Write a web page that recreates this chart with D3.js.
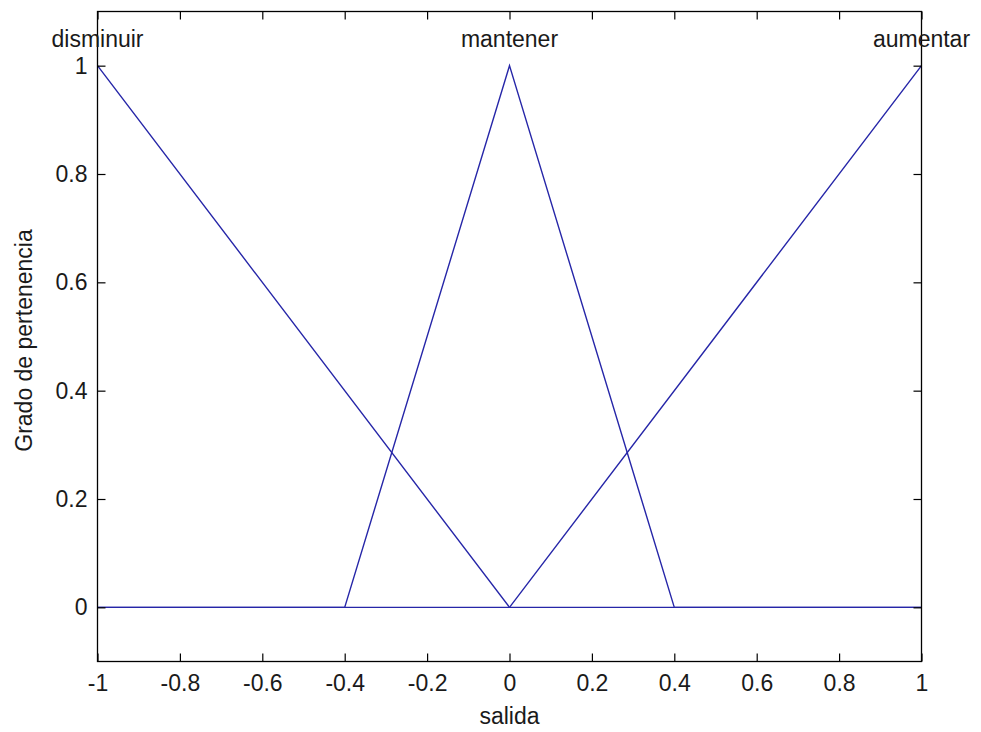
<!DOCTYPE html>
<html>
<head>
<meta charset="utf-8">
<script src="https://cdn.jsdelivr.net/npm/d3@7"></script>
<style>
  body { margin: 0; background: #fff; }
  svg text { font-family: "Liberation Sans", Arial, sans-serif; fill: #1a1a1a; }
</style>
</head>
<body>
<div id="chart"></div>
<script>
// membership functions of the output variable "salida"
var mfNames = ["disminuir", "mantener", "aumentar"];
var mfParams = [[-2, -1, 0], [-0.4, 0, 0.4], [0, 1, 2]]; // trimf a, b, c
var xDomain = [-1, 1];
var yDomain = [-0.1, 1.1];
var xTicks = [-1, -0.8, -0.6, -0.4, -0.2, 0, 0.2, 0.4, 0.6, 0.8, 1];
var yTicks = [0, 0.2, 0.4, 0.6, 0.8, 1];
var xLabel = "salida";
var yLabel = "Grado de pertenencia";

var w = 981, h = 732;
var box = {left: 97.5, right: 921.5, top: 11.5, bottom: 661.5};

var svg = d3.select("#chart").append("svg")
  .attr("width", w)
  .attr("height", h);

var x = d3.scaleLinear().domain(xDomain).range([box.left, box.right]);
var y = d3.scaleLinear().domain(yDomain).range([box.bottom, box.top]);

function fmt(d) { return String(+d.toFixed(1)); }

// break points of each triangle, clipped to the x range
function trimfPoints(p) {
  var a = p[0], b = p[1], c = p[2];
  var pts = [];
  function mu(v) {
    if (v <= a || v >= c) return 0;
    return v < b ? (v - a) / (b - a) : (c - v) / (c - b);
  }
  var xs = [xDomain[0], a, b, c, xDomain[1]].filter(function(v) {
    return v >= xDomain[0] && v <= xDomain[1];
  });
  xs = Array.from(new Set(xs)).sort(function(m, n) { return m - n; });
  xs.forEach(function(v) { pts.push([v, v === b ? 1 : mu(v)]); });
  return pts;
}

var line = d3.line()
  .x(function(d) { return x(d[0]); })
  .y(function(d) { return y(d[1]); });

svg.append("g")
  .selectAll("path")
  .data(mfParams)
  .enter().append("path")
    .attr("d", function(d) { return line(trimfPoints(d)); })
    .attr("fill", "none")
    .attr("stroke", "#2626a8")
    .attr("stroke-width", 1.4);

// axes, ticks pointing inwards on all four sides
var tk = 8;
svg.append("g")
  .attr("transform", "translate(0," + box.bottom + ")")
  .call(d3.axisBottom(x).tickValues(xTicks).tickFormat(fmt)
    .tickSizeInner(-tk).tickSizeOuter(0).tickPadding(13));
svg.append("g")
  .attr("transform", "translate(0," + box.top + ")")
  .call(d3.axisTop(x).tickValues(xTicks).tickFormat("")
    .tickSizeInner(-tk).tickSizeOuter(0));
svg.append("g")
  .attr("transform", "translate(" + box.left + ",0)")
  .call(d3.axisLeft(y).tickValues(yTicks).tickFormat(fmt)
    .tickSizeInner(-tk).tickSizeOuter(0).tickPadding(10));
svg.append("g")
  .attr("transform", "translate(" + box.right + ",0)")
  .call(d3.axisRight(y).tickValues(yTicks).tickFormat("")
    .tickSizeInner(-tk).tickSizeOuter(0));

svg.selectAll(".domain").remove();
svg.selectAll(".tick line").attr("stroke", "#000").attr("stroke-width", 1.2);
svg.selectAll(".tick text")
  .style("font-size", "23px")
  .style("font-family", "'Liberation Sans', Arial, sans-serif")
  .attr("fill", "#1a1a1a");

svg.append("rect")
  .attr("x", box.left)
  .attr("y", box.top)
  .attr("width", box.right - box.left)
  .attr("height", box.bottom - box.top)
  .attr("fill", "none")
  .attr("stroke", "#000")
  .attr("stroke-width", 1.3);

// names of the membership functions above each peak
svg.append("g")
  .selectAll("text")
  .data(mfNames)
  .enter().append("text")
    .attr("x", function(d, i) { return x(mfParams[i][1]); })
    .attr("y", y(1) - 19)
    .attr("text-anchor", "middle")
    .style("font-size", "23px")
    .text(function(d) { return d; });

svg.append("text")
  .attr("x", x(0))
  .attr("y", box.bottom + 62)
  .attr("text-anchor", "middle")
  .style("font-size", "23px")
  .text(xLabel);

svg.append("text")
  .attr("transform", "translate(32," + ((box.top + box.bottom) / 2 + 4) + ")rotate(-90)")
  .attr("text-anchor", "middle")
  .style("font-size", "23px")
  .text(yLabel);
</script>
</body>
</html>
